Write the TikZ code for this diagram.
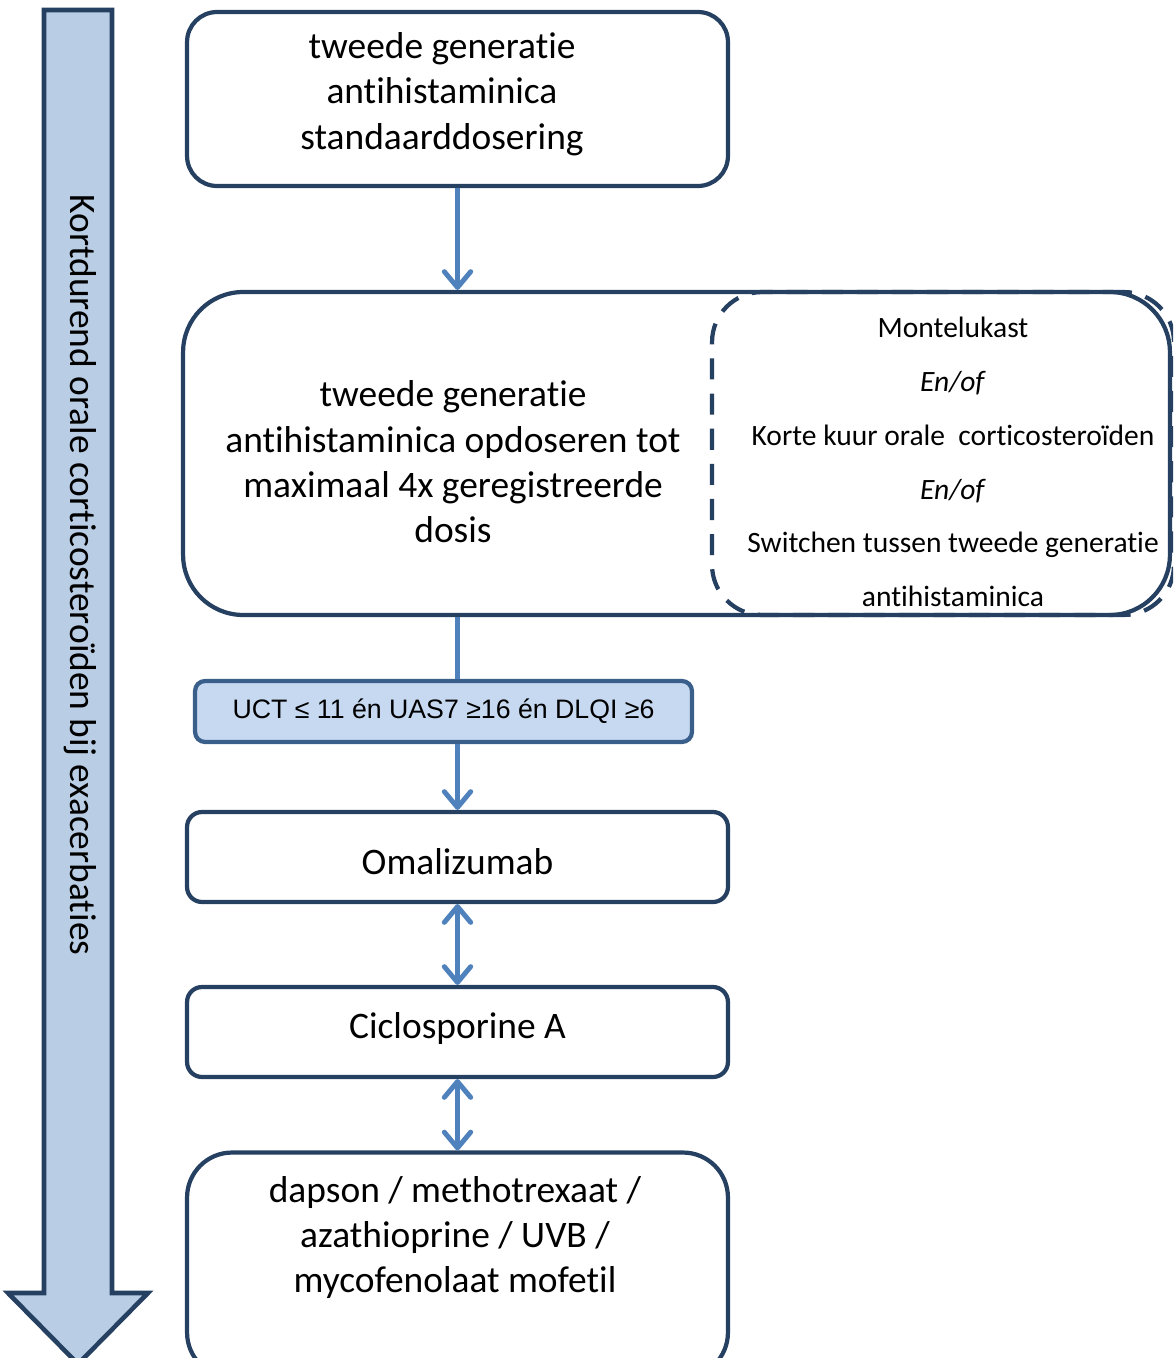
\documentclass[tikz,border=0pt]{standalone}
\usepackage{fontspec}
\setmainfont{Carlito}[Ligatures={NoCommon,NoContextual,NoRare}, Contextuals=NoAlternate]
\newfontfamily\arialfont{Liberation Sans}
\usetikzlibrary{arrows.meta}
\definecolor{navy}{HTML}{254061}
\definecolor{pale}{HTML}{B9CDE5}
\definecolor{flow}{HTML}{4F81BD}
\definecolor{critfill}{HTML}{C6D9F1}
\definecolor{critline}{HTML}{3B5F8B}
\tikzset{
  flowline/.style={draw=flow, line width=2.8pt},
  tip/.tip={Straight Barb[length=9pt, width=15pt, round]}
}
\begin{document}
\begin{tikzpicture}[x=0.02cm, y=-0.02cm]

        \clip (0,0) rectangle (1173,1358);

        % big arrow at the left
        \draw[navy, line width=2.6pt, fill=pale, line join=miter]
          (44,10) -- (112,10) -- (112,1293) -- (148,1293) -- (78,1364)
          -- (8,1293) -- (44,1293) -- cycle;
        \node[rotate=-90, font=\fontsize{21.3}{24}\selectfont] (side) at (80,575)
          {Kortdurend orale corticosteroïden bij exacerbaties};

        \begin{scope}[every node/.style={draw=navy, line width=2.4pt, fill=white,
            align=center, font=\fontsize{21.3}{25.8}\selectfont}]
          \node[minimum width=10.82cm, minimum height=3.48cm, rounded corners=0.6cm]
            (std) at (457.5,99) {};
          \node[minimum width=19.74cm, minimum height=6.46cm, rounded corners=1.2cm]
            (dose) at (676.5,453.5) {};
          \node[minimum width=10.82cm, minimum height=1.8cm, rounded corners=0.3cm]
            (oma) at (457.5,857) {};
          \node[minimum width=10.82cm, minimum height=1.8cm, rounded corners=0.3cm]
            (ciclo) at (457.5,1032) {};
          \node[minimum width=10.82cm, minimum height=4.5cm, rounded corners=0.9cm]
            (other) at (457.5,1265) {};
        \end{scope}

        % dashed panel with the alternatives
        \node[draw=navy, line width=2.4pt, dash pattern=on 12pt off 8pt,
          minimum width=9.24cm, minimum height=6.46cm, rounded corners=1cm]
          (alt) at (943,453.5) {};

        \begin{scope}[every node/.style={align=center, font=\fontsize{21.3}{25.8}\selectfont}]
          \node (stdtxt) at (442,94) {tweede generatie\\antihistaminica\\standaarddosering};
          \node (dosetxt) at (453,462) {tweede generatie\\antihistaminica opdoseren tot\\maximaal 4x geregistreerde\\dosis};
          \node (omatxt) at (457.5,862) {Omalizumab};
          \node (ciclotxt) at (457.5,1029) {Ciclosporine A};
          \node[anchor=north] (othertxt) at (455,1170) {dapson / methotrexaat /\\azathioprine / UVB /\\mycofenolaat mofetil};
          \node[font=\fontsize{16.8}{30.6}\selectfont] (alttxt) at (953,462)
            {Montelukast\\\textit{En/of}\\Korte kuur orale\ \ corticosteroïden\\\textit{En/of}\\Switchen tussen tweede generatie\\antihistaminica};
        \end{scope}

        \node[draw=critline, line width=2.4pt, fill=critfill,
          minimum width=9.94cm, minimum height=1.22cm, rounded corners=0.2cm,
          font=\arialfont\fontsize{15.2}{17}\selectfont]
          (crit) at (443.5,711.5) {UCT ≤ 11 én UAS7 ≥16 én DLQI ≥6};

        % connectors
        \draw[flowline, -tip] (std.south) -- (std.south |- dose.north);
        \draw[flowline] (dose.south -| std.south) -- (std.south |- crit.north);
        \draw[flowline, -tip] (std.south |- crit.south) -- (oma.north);
        \draw[flowline, tip-tip] (oma.south) -- (ciclo.north);
        \draw[flowline, tip-tip] (ciclo.south) -- (other.north);

      \end{tikzpicture}
\end{document}
